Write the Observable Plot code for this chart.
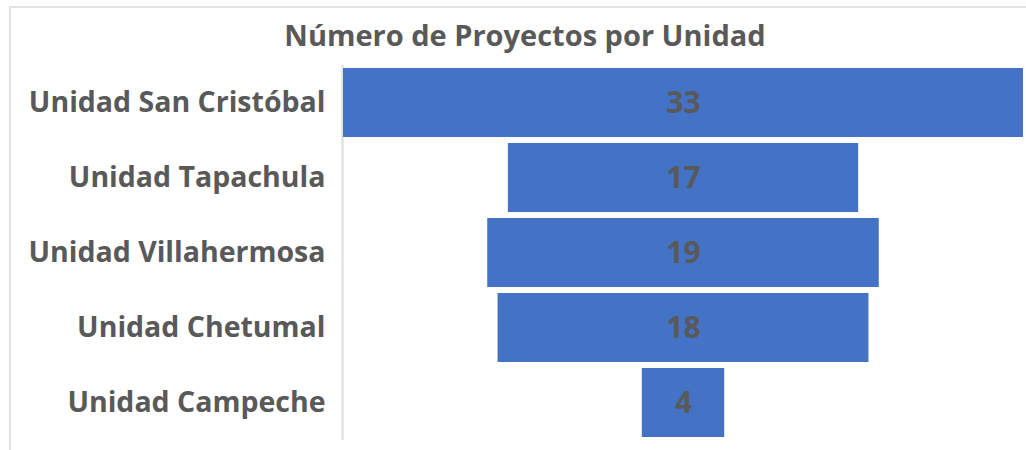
<!DOCTYPE html>
<html>
<head>
<meta charset="utf-8">
<script src="https://cdn.jsdelivr.net/npm/d3@7"></script>
<script src="https://cdn.jsdelivr.net/npm/@observablehq/plot@0.6"></script>
<style>
  html, body { margin: 0; padding: 0; background: #fff; }
  #wrap { position: relative; width: 1026px; height: 450px; overflow: hidden; font-family: "Open Sans", sans-serif; }
  #frame { position: absolute; left: 9px; top: 6px; width: 1030px; height: 460px; border-left: 2px solid #e3e3e3; border-top: 2px solid #e3e3e3; }
  #title { position: absolute; top: 20px; left: 0; width: 1050px; text-align: center; font-size: 29px; line-height: 1; font-weight: 700; color: #595959; }
  #chart { position: absolute; top: 60px; left: 0; }
</style>
</head>
<body>
<div id="wrap">
  <div id="frame"></div>
  <div id="title">Número de Proyectos por Unidad</div>
  <div id="chart"></div>
</div>
<script>
const units = ["Unidad San Cristóbal", "Unidad Tapachula", "Unidad Villahermosa", "Unidad Chetumal", "Unidad Campeche"];
const projects = [33, 17, 19, 18, 4];

const data = units.map((u, i) => ({unit: u, value: projects[i]}));
const maxV = d3.max(projects);

const chart = Plot.plot({
  width: 1026,
  height: 390,
  marginLeft: 343,
  marginRight: 3,
  marginTop: 5,
  marginBottom: 10,
  style: {fontFamily: "Open Sans, sans-serif", background: "transparent"},
  x: {domain: [-maxV / 2, maxV / 2], axis: null},
  y: {domain: units, paddingInner: 0.08, paddingOuter: 0.04, label: null},
  marks: [
    Plot.ruleX([-maxV / 2], {stroke: "#dcdcdc", strokeWidth: 2, dx: -1}),
    Plot.barX(data, {y: "unit", x1: d => -d.value / 2, x2: d => d.value / 2, fill: "#4472C4"}),
    Plot.text(data, {y: "unit", x: 0, text: d => String(d.value), fill: "#595959", fontSize: 30, fontWeight: "bold"}),
    Plot.axisY({tickSize: 0, tickPadding: 18, fontSize: 28.5, fontWeight: "bold", fill: "#595959", label: null})
  ]
});
document.getElementById("chart").appendChild(chart);
</script>
</body>
</html>
